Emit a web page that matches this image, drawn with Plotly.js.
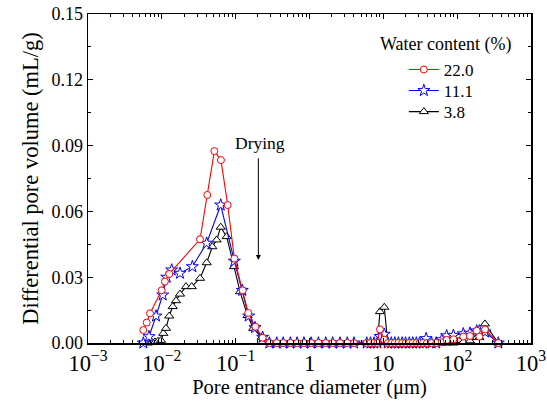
<!DOCTYPE html>
<html>
<head>
<meta charset="utf-8">
<script src="https://cdn.plot.ly/plotly-3.0.1.min.js"></script>
<style>html,body{margin:0;padding:0;background:#fff;}#chart{width:547px;height:402px;}</style>
</head>
<body>
<div id="chart"></div>
<script>
// Water content 22.0 %
const x22 = [0.00561, 0.00624, 0.00692, 0.00995, 0.0110, 0.0126, 0.0329, 0.0413, 0.0514, 0.0632, 0.078, 0.096, 0.1245, 0.148, 0.185, 0.232, 0.286,
  0.36, 0.44, 0.55, 0.68, 0.84, 1.05, 1.32, 1.66, 2.06, 2.59, 3.25, 4.0,
  5.96, 6.7, 7.5, 8.3, 9.0, 10.3, 11.5, 12.8, 14.3, 16, 18, 20, 22.5, 25, 28, 31, 34.5, 39, 45, 52, 62, 72, 89, 121, 149, 184, 200, 238, 361];
const y22 = [0.0059, 0.0093, 0.0135, 0.0240, 0.0280, 0.0315, 0.0473, 0.0675, 0.0875, 0.0834, 0.0629, 0.0385, 0.0240, 0.0137, 0.0074, 0.0024, 0,
  0, 0, 0, 0, 0, 0, 0, 0, 0, 0, 0, 0,
  0, 0, 0, 0, 0.0062, 0.0015, 0, 0, 0, 0, 0, 0, 0, 0, 0, 0, 0, 0, 0, 0, 0.0003, 0.0014, 0.0017, 0.0029, 0.0032, 0.0056, 0.0029, 0.0062, 0];

// Water content 11.1 %
const x11 = [0.00561, 0.0067, 0.00834, 0.01028, 0.01164, 0.0136, 0.01763, 0.0259, 0.0405, 0.0627, 0.096, 0.123, 0.150, 0.183, 0.232, 0.286,
  0.36, 0.44, 0.55, 0.68, 0.84, 1.05, 1.32, 1.66, 2.06, 2.59, 3.25, 4.0,
  5.96, 6.7, 7.5, 8.3, 9.0, 10.3, 11.5, 12.8, 14.3, 16, 18, 20, 22.5, 25, 28, 31, 34.5, 38, 45, 52, 62, 72, 89, 121, 149, 184, 200, 238, 361];
const y11 = [0, 0.0029, 0.0123, 0.0219, 0.0300, 0.0333, 0.0318, 0.0348, 0.0455, 0.0629, 0.0373, 0.0240, 0.0123, 0.0070, 0.0026, 0,
  0, 0, 0, 0, 0, 0, 0, 0, 0, 0, 0, 0,
  0, 0, 0, 0, 0.0030, 0.0040, 0, 0, 0, 0, 0, 0, 0, 0, 0, 0, 0, 0.0020, 0, 0, 0.0015, 0.0033, 0.0035, 0.0042, 0.0045, 0.0055, 0.0055, 0.0050, 0];

// Water content 3.8 %
const x38 = [0.0065, 0.00736, 0.00808, 0.00887, 0.00974, 0.01047, 0.01138, 0.0126, 0.01404, 0.01556, 0.01763, 0.02125, 0.0254, 0.0329, 0.0405, 0.0483, 0.0553, 0.0627, 0.0756, 0.095, 0.1145, 0.145, 0.173, 0.225, 0.286,
  0.36, 0.44, 0.55, 0.68, 0.84, 1.05, 1.32, 1.66, 2.06, 2.59, 3.25, 4.0,
  5.96, 6.7, 7.5, 8.3, 9.0, 10.3, 11.5, 12.8, 14.3, 16, 18, 20, 22.5, 25, 28, 31, 34.5, 39, 45, 52, 62, 72, 89, 121, 149, 184, 200, 238, 361];
const y38 = [0, 0.0003, 0.0005, 0.0008, 0.0012, 0.0044, 0.0067, 0.0123, 0.0166, 0.0193, 0.0223, 0.0257, 0.0257, 0.0295, 0.0366, 0.0439, 0.0470, 0.0528, 0.0485, 0.0348, 0.0234, 0.0125, 0.0067, 0.0026, 0.0005,
  0, 0, 0, 0, 0, 0, 0, 0, 0, 0, 0, 0,
  0, 0, 0, 0, 0.0143, 0.0163, 0, 0, 0, 0, 0, 0, 0, 0, 0, 0, 0, 0, 0, 0, 0, 0, 0, 0.0005, 0.0010, 0.0025, 0.0025, 0.0087, 0];

const seriesNames = ['22.0', '11.1', '3.8'];
const legendTitle = 'Water content (%)';
const FONT = 'Liberation Serif, Times New Roman, serif';

const traces = [
  {x: x38, y: y38, name: seriesNames[2], legend: 'legend3', type: 'scatter', mode: 'lines+markers', cliponaxis: false,
   line: {color: '#000000', width: 1.1},
   marker: {symbol: 'triangle-up', size: 8, color: '#ffffff', line: {color: '#000000', width: 1}}},
  {x: x11, y: y11, name: seriesNames[1], legend: 'legend2', type: 'scatter', mode: 'lines+markers', cliponaxis: false,
   line: {color: '#0000ff', width: 1.1},
   marker: {symbol: 'star', size: 9, color: '#ffffff', line: {color: '#0000ff', width: 1}}},
  {x: x22, y: y22, name: seriesNames[0], legend: 'legend', type: 'scatter', mode: 'lines+markers', cliponaxis: false,
   line: {color: '#ff0000', width: 1.1},
   marker: {symbol: 'circle', size: 7, color: '#ffffff', line: {color: '#ff0000', width: 1}}}
];

function legendAt(yPaper) {
  return {x: 0.713, y: yPaper, xanchor: 'left', yanchor: 'middle', bgcolor: 'rgba(0,0,0,0)',
          font: {family: FONT, size: 17, color: '#000'}};
}

const layout = {
  width: 547, height: 402,
  margin: {l: 88, r: 16, t: 14, b: 59},
  paper_bgcolor: '#ffffff', plot_bgcolor: '#ffffff',
  font: {family: FONT, size: 18, color: '#000'},
  showlegend: true,
  legend: legendAt(0.830),
  legend2: legendAt(0.766),
  legend3: legendAt(0.702),
  xaxis: {
    type: 'log', range: [-3, 3], dtick: 1,
    exponentformat: 'power',
    showgrid: false, zeroline: false,
    showline: true, linecolor: '#000', linewidth: 1.5, mirror: 'allticks',
    ticks: 'inside', ticklen: 5, tickwidth: 1.2, tickcolor: '#000',
    tickfont: {family: FONT, size: 18},
    minor: {ticks: 'inside', ticklen: 3, tickwidth: 1, tickcolor: '#000', dtick: 'D1', showgrid: false},
    title: {text: 'Pore entrance diameter (\u03bcm)', font: {family: FONT, size: 20.5}, standoff: 4}
  },
  yaxis: {
    range: [0, 0.15], dtick: 0.03, tickformat: '.2f',
    showgrid: false, zeroline: false,
    showline: true, linecolor: '#000', linewidth: 1.5, mirror: 'allticks',
    ticks: 'inside', ticklen: 5, tickwidth: 1.2, tickcolor: '#000',
    tickfont: {family: FONT, size: 18},
    minor: {ticks: 'inside', ticklen: 3, tickwidth: 1, tickcolor: '#000', dtick: 0.015, showgrid: false},
    title: {text: 'Differential pore volume (mL/g)', font: {family: FONT, size: 22.5}, standoff: 6}
  },
  annotations: [
    {x: 0.6546, y: 0.906, xref: 'paper', yref: 'paper', xanchor: 'left', yanchor: 'middle',
     text: legendTitle, showarrow: false, font: {family: FONT, size: 18, color: '#000'}},
    {x: Math.log10(0.203), y: 0.0378, ax: Math.log10(0.203), ay: 0.0849, xref: 'x', yref: 'y', axref: 'x', ayref: 'y',
     text: '', showarrow: true, arrowhead: 2, arrowsize: 1, arrowwidth: 1, arrowcolor: '#000'},
    {x: Math.log10(0.213), y: 0.0912, xref: 'x', yref: 'y', text: 'Drying', showarrow: false,
     font: {family: FONT, size: 17.5, color: '#000'}}
  ]
};

Plotly.newPlot('chart', traces, layout, {displayModeBar: false, staticPlot: true});
</script>
</body>
</html>
